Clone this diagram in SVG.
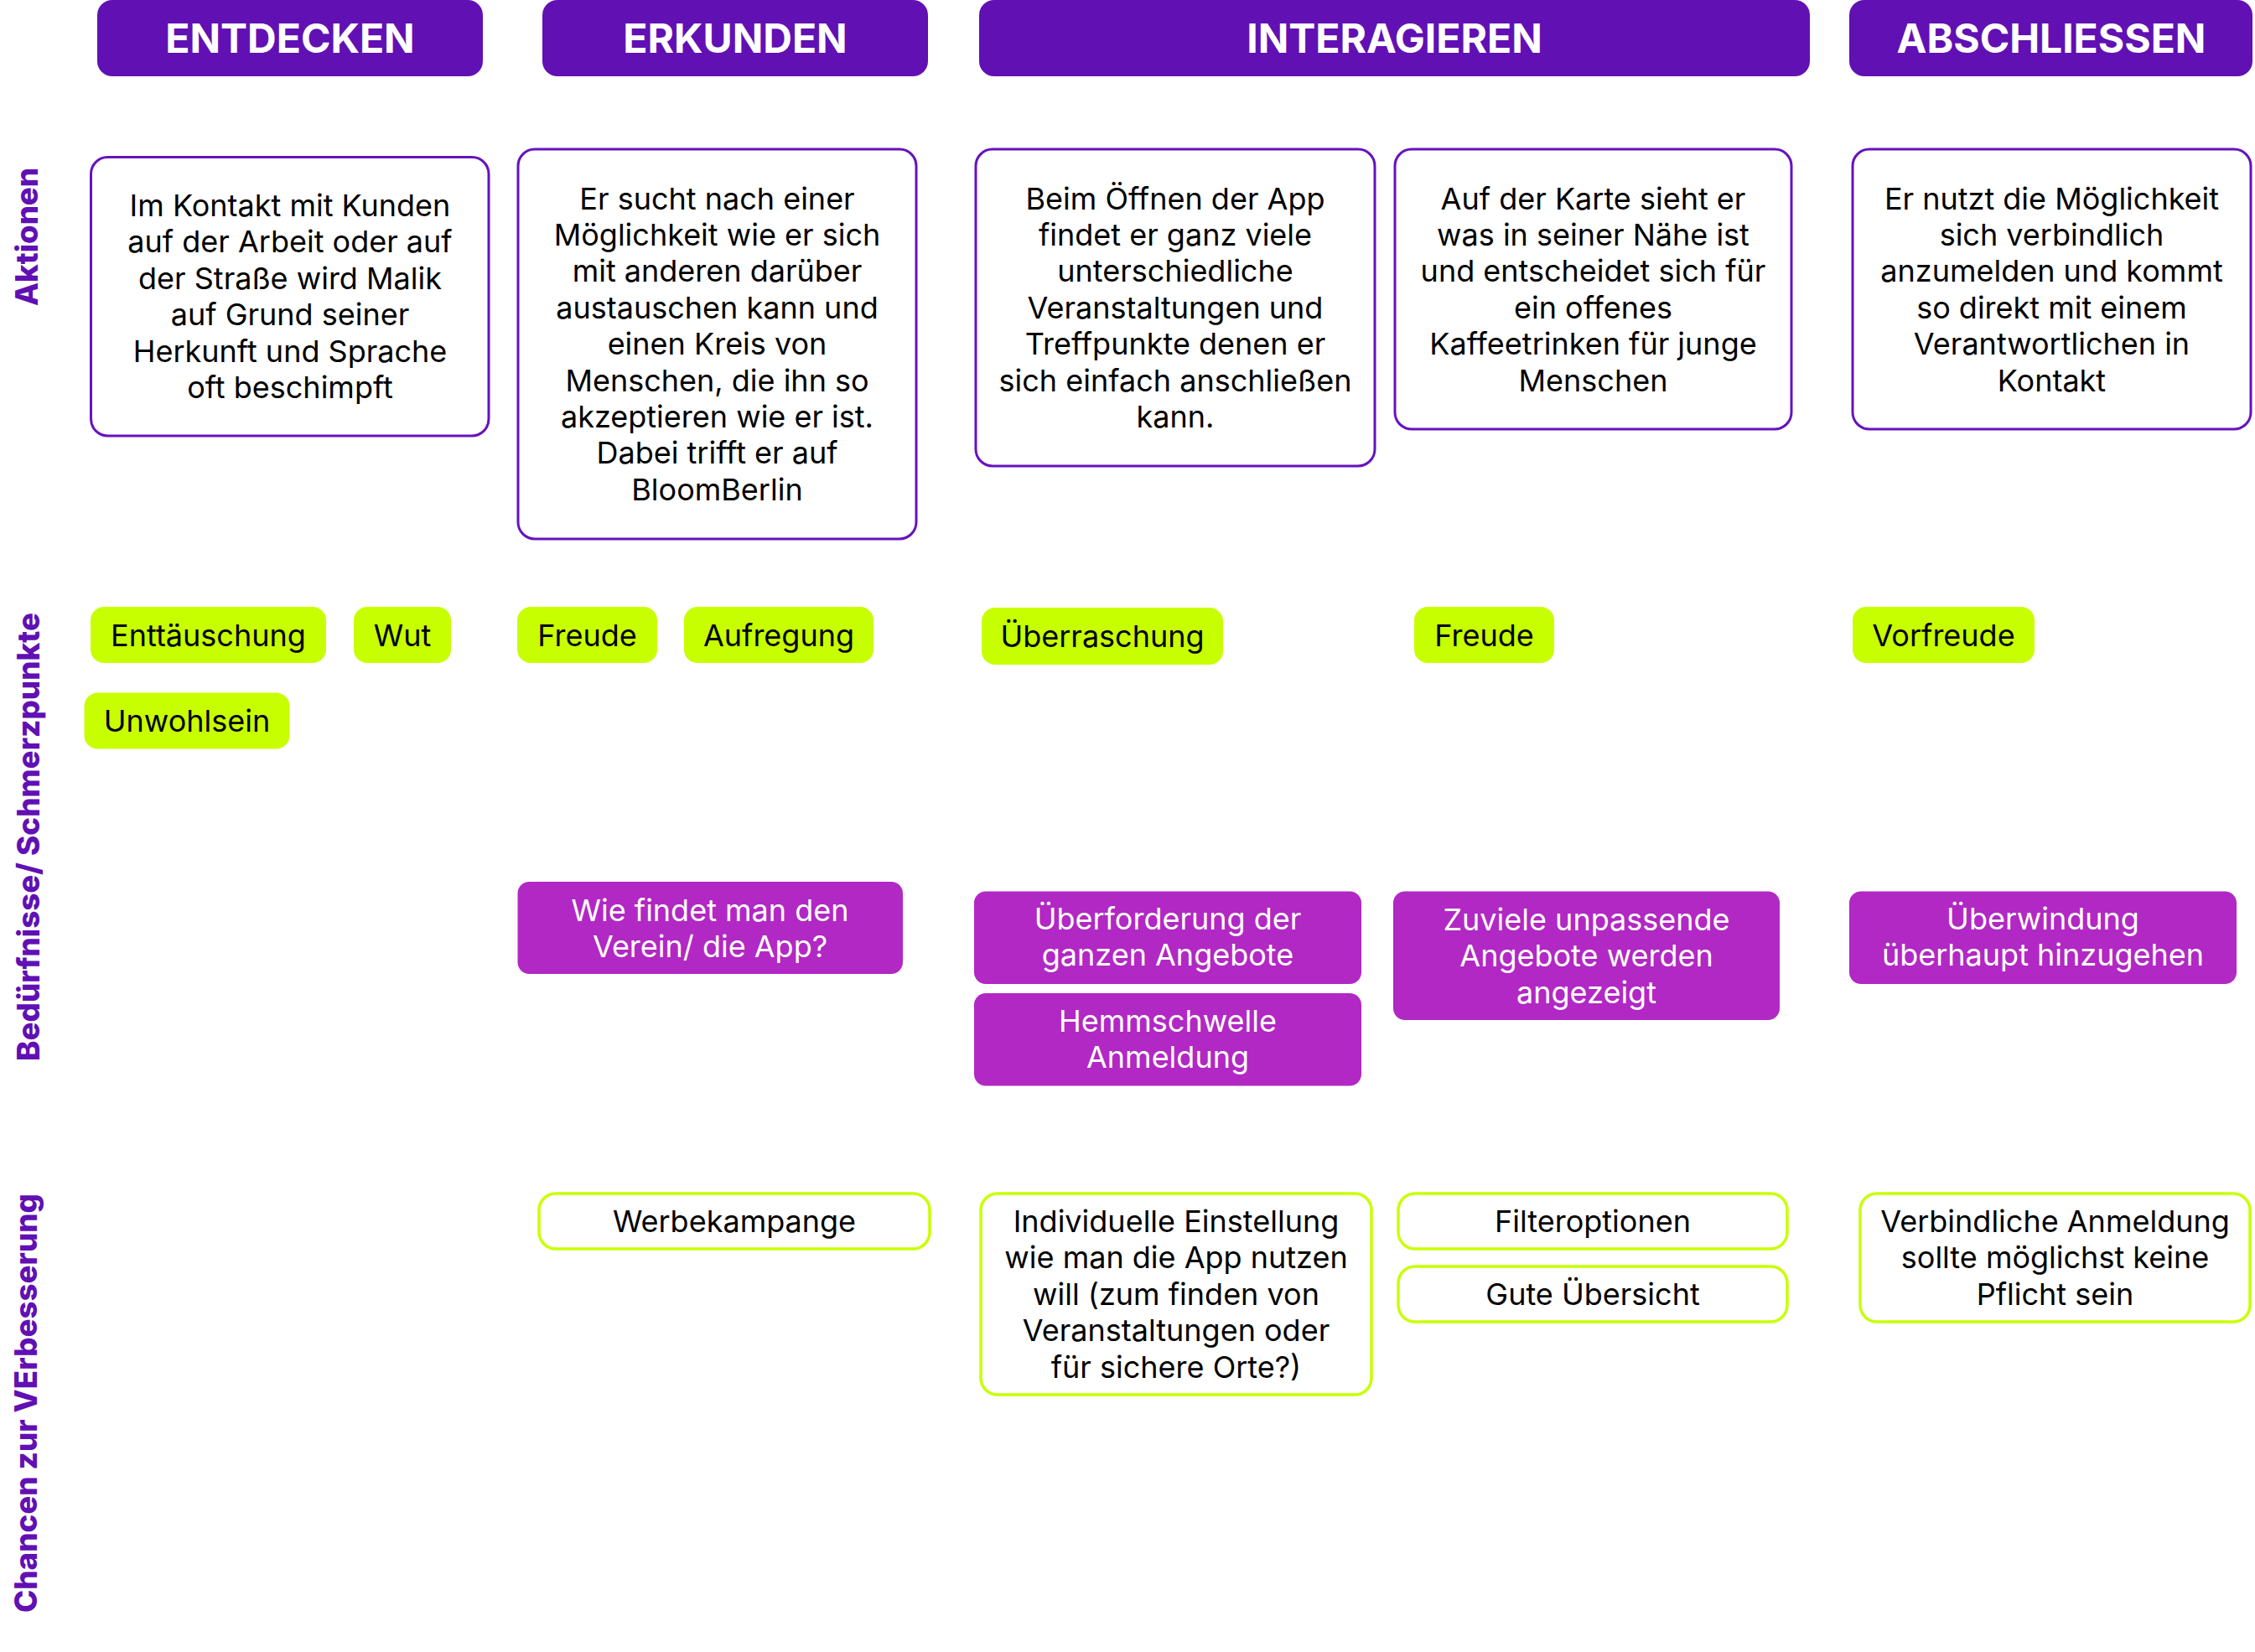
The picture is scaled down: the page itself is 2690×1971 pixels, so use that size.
<svg xmlns="http://www.w3.org/2000/svg" width="2690" height="1971" viewBox="0 0 2690 1971">
<style>
.hdr{fill:#6110B4}
.hdrt{font-family:Inter,"Liberation Sans",sans-serif;font-weight:700;font-size:48px;fill:#fff;text-anchor:middle}
.act{fill:#fff;stroke:#6612BE;stroke-width:3}
.t{font-family:Inter,"Liberation Sans",sans-serif;font-size:36px;fill:#000;text-anchor:middle}
.tw{font-family:Inter,"Liberation Sans",sans-serif;font-size:36px;fill:#fff;text-anchor:middle}
.chip{fill:#C8FF00}
.pain{fill:#B128C4}
.opp{fill:#fff;stroke:#C8FF00;stroke-width:3.5}
.side{font-family:Inter,"Liberation Sans",sans-serif;font-weight:800;font-size:37px;fill:#6110B4;text-anchor:middle}
</style>
<rect width="2690" height="1971" fill="#fff"/>
<g id="connectors"/>

<g id="h-entdecken"><rect class="hdr" x="116" y="0" width="460" height="91" rx="18"/><text class="hdrt" x="346" y="62.5">ENTDECKEN</text></g>
<g id="h-erkunden"><rect class="hdr" x="647" y="0" width="460" height="91" rx="18"/><text class="hdrt" x="877" y="62.5">ERKUNDEN</text></g>
<g id="h-interagieren"><rect class="hdr" x="1168" y="0" width="991" height="91" rx="18"/><text class="hdrt" x="1663.5" y="62.5">INTERAGIEREN</text></g>
<g id="h-abschliessen"><rect class="hdr" x="2206" y="0" width="481" height="91" rx="18"/><text class="hdrt" x="2447" y="62.5">ABSCHLIESSEN</text></g>

<g id="label-aktionen"><text class="side" transform="translate(45,282.5) rotate(-90)" textLength="165" lengthAdjust="spacingAndGlyphs">Aktionen</text></g>
<g id="label-beduerfnisse"><text class="side" transform="translate(47,998.5) rotate(-90)" textLength="535" lengthAdjust="spacingAndGlyphs">Bedürfnisse/ Schmerzpunkte</text></g>
<g id="label-chancen"><text class="side" transform="translate(44,1674) rotate(-90)" textLength="500" lengthAdjust="spacingAndGlyphs">Chancen zur VErbesserung</text></g>

<g id="a1"><rect class="act" x="108.5" y="187.5" width="474.5" height="332.5" rx="20"/>
<text class="t"><tspan x="346" y="258">Im Kontakt mit Kunden</tspan><tspan x="346" y="301.4">auf der Arbeit oder auf</tspan><tspan x="346" y="344.8">der Straße wird Malik</tspan><tspan x="346" y="388.2">auf Grund seiner</tspan><tspan x="346" y="431.6">Herkunft und Sprache</tspan><tspan x="346" y="475">oft beschimpft</tspan></text></g>
<g id="a2"><rect class="act" x="618" y="178" width="475" height="465" rx="20"/>
<text class="t"><tspan x="855.5" y="249.5">Er sucht nach einer</tspan><tspan x="855.5" y="292.9">Möglichkeit wie er sich</tspan><tspan x="855.5" y="336.3">mit anderen darüber</tspan><tspan x="855.5" y="379.7">austauschen kann und</tspan><tspan x="855.5" y="423.1">einen Kreis von</tspan><tspan x="855.5" y="466.5">Menschen, die ihn so</tspan><tspan x="855.5" y="509.9">akzeptieren wie er ist.</tspan><tspan x="855.5" y="553.3">Dabei trifft er auf</tspan><tspan x="855.5" y="596.7">BloomBerlin</tspan></text></g>
<g id="a3"><rect class="act" x="1164" y="178" width="476" height="378" rx="20"/>
<text class="t"><tspan x="1402" y="249.5">Beim Öffnen der App</tspan><tspan x="1402" y="292.9">findet er ganz viele</tspan><tspan x="1402" y="336.3">unterschiedliche</tspan><tspan x="1402" y="379.7">Veranstaltungen und</tspan><tspan x="1402" y="423.1">Treffpunkte denen er</tspan><tspan x="1402" y="466.5">sich einfach anschließen</tspan><tspan x="1402" y="509.9">kann.</tspan></text></g>
<g id="a4"><rect class="act" x="1664" y="178" width="473" height="334" rx="20"/>
<text class="t"><tspan x="1900.5" y="249.5">Auf der Karte sieht er</tspan><tspan x="1900.5" y="292.9">was in seiner Nähe ist</tspan><tspan x="1900.5" y="336.3">und entscheidet sich für</tspan><tspan x="1900.5" y="379.7">ein offenes</tspan><tspan x="1900.5" y="423.1">Kaffeetrinken für junge</tspan><tspan x="1900.5" y="466.5">Menschen</tspan></text></g>
<g id="a5"><rect class="act" x="2210" y="178" width="475" height="334" rx="20"/>
<text class="t"><tspan x="2447.5" y="249.5">Er nutzt die Möglichkeit</tspan><tspan x="2447.5" y="292.9">sich verbindlich</tspan><tspan x="2447.5" y="336.3">anzumelden und kommt</tspan><tspan x="2447.5" y="379.7">so direkt mit einem</tspan><tspan x="2447.5" y="423.1">Verantwortlichen in</tspan><tspan x="2447.5" y="466.5">Kontakt</tspan></text></g>

<g id="e-enttaeuschung"><rect class="chip" x="108" y="724" width="281" height="67" rx="16"/><text class="t" x="248.5" y="770.5">Enttäuschung</text></g>
<g id="e-wut"><rect class="chip" x="422" y="724" width="116" height="67" rx="16"/><text class="t" x="480" y="770.5">Wut</text></g>
<g id="e-unwohlsein"><rect class="chip" x="100.5" y="826.5" width="245" height="67" rx="16"/><text class="t" x="223" y="873">Unwohlsein</text></g>
<g id="e-freude1"><rect class="chip" x="617" y="724" width="167" height="67" rx="16"/><text class="t" x="700.5" y="770.5">Freude</text></g>
<g id="e-aufregung"><rect class="chip" x="816" y="724" width="226" height="67" rx="16"/><text class="t" x="929" y="770.5">Aufregung</text></g>
<g id="e-ueberraschung"><rect class="chip" x="1171" y="725" width="288" height="68" rx="16"/><text class="t" x="1315" y="772">Überraschung</text></g>
<g id="e-freude2"><rect class="chip" x="1687" y="724" width="167" height="67" rx="16"/><text class="t" x="1770.5" y="770.5">Freude</text></g>
<g id="e-vorfreude"><rect class="chip" x="2210" y="724" width="217" height="67" rx="16"/><text class="t" x="2318.5" y="770.5">Vorfreude</text></g>

<g id="p-wiefindet"><rect class="pain" x="617.5" y="1052" width="459.5" height="110" rx="14"/><text class="tw"><tspan x="847" y="1098.5">Wie findet man den</tspan><tspan x="847" y="1141.9">Verein/ die App?</tspan></text></g>
<g id="p-ueberforderung"><rect class="pain" x="1162" y="1063.5" width="462" height="110.5" rx="14"/><text class="tw"><tspan x="1393" y="1109">Überforderung der</tspan><tspan x="1393" y="1152.4">ganzen Angebote</tspan></text></g>
<g id="p-hemmschwelle"><rect class="pain" x="1162" y="1185" width="462" height="110.5" rx="14"/><text class="tw"><tspan x="1393" y="1230.5">Hemmschwelle</tspan><tspan x="1393" y="1273.9">Anmeldung</tspan></text></g>
<g id="p-zuviele"><rect class="pain" x="1662" y="1063.5" width="461" height="153.5" rx="14"/><text class="tw"><tspan x="1892.5" y="1109.8">Zuviele unpassende</tspan><tspan x="1892.5" y="1153.2">Angebote werden</tspan><tspan x="1892.5" y="1196.6">angezeigt</tspan></text></g>
<g id="p-ueberwindung"><rect class="pain" x="2206" y="1063.5" width="462" height="110.5" rx="14"/><text class="tw"><tspan x="2437" y="1109">Überwindung</tspan><tspan x="2437" y="1152.4">überhaupt hinzugehen</tspan></text></g>

<g id="c-werbekampange"><rect class="opp" x="643" y="1424" width="466" height="66" rx="20"/><text class="t" x="876" y="1470">Werbekampange</text></g>
<g id="c-individuelle"><rect class="opp" x="1170" y="1424" width="466" height="240" rx="20"/><text class="t"><tspan x="1403" y="1470">Individuelle Einstellung</tspan><tspan x="1403" y="1513.4">wie man die App nutzen</tspan><tspan x="1403" y="1556.8">will (zum finden von</tspan><tspan x="1403" y="1600.2">Veranstaltungen oder</tspan><tspan x="1403" y="1643.6">für sichere Orte?)</tspan></text></g>
<g id="c-filteroptionen"><rect class="opp" x="1668" y="1424" width="464" height="66" rx="20"/><text class="t" x="1900" y="1470">Filteroptionen</text></g>
<g id="c-uebersicht"><rect class="opp" x="1668" y="1511" width="464" height="66" rx="20"/><text class="t" x="1900" y="1557">Gute Übersicht</text></g>
<g id="c-verbindliche"><rect class="opp" x="2219" y="1424" width="465" height="153" rx="20"/><text class="t"><tspan x="2451.5" y="1470">Verbindliche Anmeldung</tspan><tspan x="2451.5" y="1513.4">sollte möglichst keine</tspan><tspan x="2451.5" y="1556.8">Pflicht sein</tspan></text></g>
</svg>
